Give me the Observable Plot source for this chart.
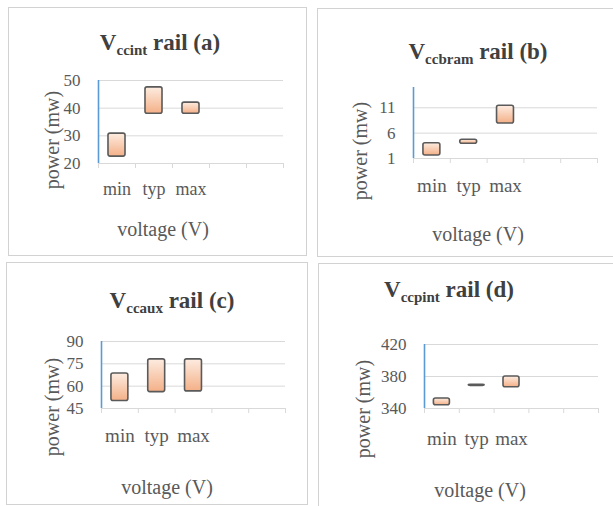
<!DOCTYPE html>
<html>
<head>
<meta charset="utf-8">
<script src="https://cdn.jsdelivr.net/npm/d3@7"></script>
<script src="https://cdn.jsdelivr.net/npm/@observablehq/plot@0.6"></script>
<style>
  body { margin: 0; background: #fff; }
  #root { position: relative; width: 613px; height: 506px; overflow: hidden; background: #fff;
          font-family: "Liberation Serif", "Times New Roman", serif; }
  .panel { position: absolute; border: 1px solid #d2d2d2; box-sizing: border-box; }
  #root svg.layer { position: absolute; left: 0; top: 0; overflow: visible; }
  .ttl { font-weight: bold; font-size: 23px; fill: #404040; }
  .sub { font-size: 15px; }
  .axt { font-size: 20px; fill: #595959; }
</style>
</head>
<body>
<svg width="0" height="0" style="position:absolute">
  <defs>
    <linearGradient id="barGrad" x1="0" y1="0" x2="0" y2="1">
      <stop offset="0" stop-color="#fdece1"/>
      <stop offset="1" stop-color="#f4b087"/>
    </linearGradient>
  </defs>
</svg>
<div id="root">
  <div class="panel" style="left:8px;top:7px;width:299px;height:249px"></div>
  <div class="panel" style="left:317px;top:8px;width:300px;height:249px"></div>
  <div class="panel" style="left:6px;top:262px;width:302px;height:243px"></div>
  <div class="panel" style="left:318px;top:263px;width:300px;height:250px"></div>
</div>
<script>
// ---- data ----
const categories = ["min", "typ", "max"];
const slotCount = 5;

const railA_low  = [22.5, 38, 38];
const railA_high = [30.8, 47.5, 42];
const railA_ticks = [20, 30, 40, 50];
const railA_domain = [20, 50];

const railB_low  = [1.6, 3.9, 7.9];
const railB_high = [4.0, 4.7, 11.4];
const railB_ticks = [1, 6, 11];
const railB_domain = [1, 15];

const railC_low  = [50, 56, 56.5];
const railC_high = [68.5, 78, 78];
const railC_ticks = [45, 60, 75, 90];
const railC_domain = [45, 90];

const railD_low  = [344, 368.3, 366.5];
const railD_high = [352.5, 369.7, 380];
const railD_ticks = [340, 380, 420];
const railD_domain = [340, 420];

const titles = [
  {main: "V", sub: "ccint", rest: " rail (a)"},
  {main: "V", sub: "ccbram", rest: " rail (b)"},
  {main: "V", sub: "ccaux", rest: " rail (c)"},
  {main: "V", sub: "ccpint", rest: " rail (d)"}
];
const yTitle = "power (mw)";
const xTitle = "voltage (V)";

// ---- layout (page coordinates) ----
const W = 613, H = 506;
const panels = [
  {low: railA_low, high: railA_high, ticks: railA_ticks, domain: railA_domain,
   frame: {l: 98, r: 283, t: 80, b: 163}, catSize: 18, catDy: 26,
   title: {x: 160, y: 50}, yT: {x: 52, y: 140}, xT: {x: 163, y: 236}},
  {low: railB_low, high: railB_high, ticks: railB_ticks, domain: railB_domain,
   frame: {l: 413, r: 597, t: 87, b: 158}, catSize: 19, catDy: 27,
   title: {x: 478, y: 59}, yT: {x: 360, y: 151}, xT: {x: 478, y: 241}},
  {low: railC_low, high: railC_high, ticks: railC_ticks, domain: railC_domain,
   frame: {l: 101, r: 285, t: 341, b: 408}, catSize: 19, catDy: 27,
   title: {x: 172, y: 308}, yT: {x: 52, y: 407}, xT: {x: 167, y: 494}},
  {low: railD_low, high: railD_high, ticks: railD_ticks, domain: railD_domain,
   frame: {l: 424, r: 598, t: 344, b: 408}, catSize: 19, catDy: 30,
   title: {x: 449, y: 297}, yT: {x: 363, y: 409}, xT: {x: 480, y: 497}}
];

const root = document.getElementById("root");

panels.forEach((p, k) => {
  const rows = categories.map((c, i) => ({cat: c, i, low: p.low[i], high: p.high[i]}));
  const chart = Plot.plot({
    width: W, height: H,
    marginLeft: p.frame.l, marginRight: W - p.frame.r,
    marginTop: p.frame.t, marginBottom: H - p.frame.b,
    style: {fontFamily: "'Liberation Serif', 'Times New Roman', serif", color: "#595959", background: "transparent"},
    x: {type: "linear", domain: [0, slotCount]},
    y: {domain: p.domain},
    marks: [
      Plot.gridY(p.ticks, {stroke: "#d9d9d9", strokeOpacity: 1}),
      Plot.ruleY([p.domain[0]], {stroke: "#d9d9d9"}),
      Plot.axisX({ticks: d3.range(slotCount + 1), tickSize: 5, tickFormat: () => "", stroke: "#d9d9d9", label: null}),
      Plot.axisY({ticks: p.ticks, tickSize: 0, tickPadding: 18, fontSize: 17, label: null, fill: "#595959"}),
      Plot.ruleX([0], {stroke: "#5b9bd5", strokeWidth: 1.6}),
      Plot.rect(rows, {x1: d => d.i + 0.27, x2: d => d.i + 0.73, y1: "low", y2: "high",
        fill: "url(#barGrad)", stroke: "#5a5a5a", strokeWidth: 1.6, rx: 2}),
      Plot.text(rows, {x: d => d.i + 0.5, frameAnchor: "bottom", text: "cat", dy: p.catDy,
        lineAnchor: "middle", fontSize: p.catSize, fill: "#595959"})
    ]
  });
  chart.classList.add("layer");
  root.appendChild(chart);
});

// titles and axis titles
const svg = d3.select(root).append("svg").attr("class", "layer").attr("width", W).attr("height", H);
panels.forEach((p, k) => {
  const t = titles[k];
  const tx = svg.append("text").attr("class", "ttl").attr("x", p.title.x).attr("y", p.title.y)
    .attr("text-anchor", "middle");
  tx.append("tspan").text(t.main);
  tx.append("tspan").attr("class", "sub").attr("dy", 5).text(t.sub);
  tx.append("tspan").attr("dy", -5).text(t.rest);
  svg.append("text").attr("class", "axt")
    .attr("transform", `translate(${p.yT.x},${p.yT.y}) rotate(-90)`)
    .attr("text-anchor", "middle").attr("dominant-baseline", "central").text(yTitle);
  svg.append("text").attr("class", "axt").attr("x", p.xT.x).attr("y", p.xT.y)
    .attr("text-anchor", "middle").text(xTitle);
});
</script>
</body>
</html>
